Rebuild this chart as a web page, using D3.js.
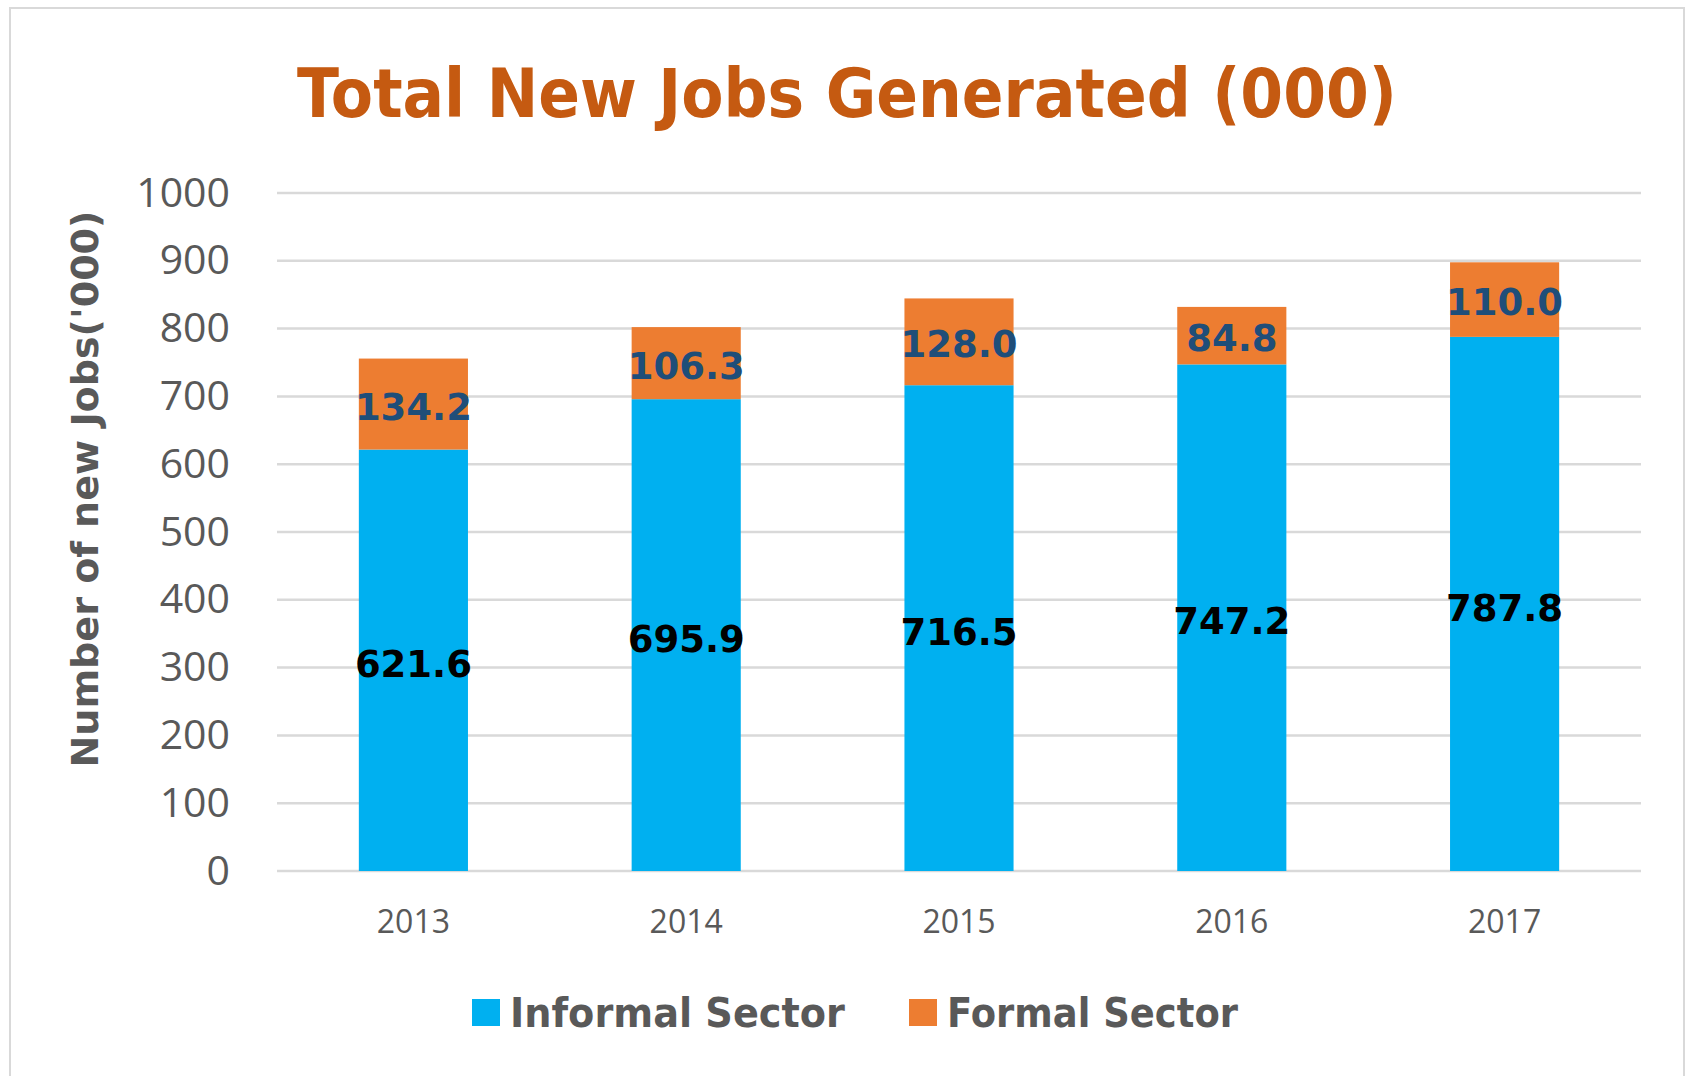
<!DOCTYPE html>
<html>
<head>
<meta charset="utf-8">
<script src="https://cdn.jsdelivr.net/npm/d3@7"></script>
<style>
  body { margin: 0; background: #fff; }
</style>
</head>
<body>
<script>
// chart values
var years = ["2013", "2014", "2015", "2016", "2017"];
var informal = [621.6, 695.9, 716.5, 747.2, 787.8];
var formal = [134.2, 106.3, 128.0, 84.8, 110.0];
var yTicks = [0, 100, 200, 300, 400, 500, 600, 700, 800, 900, 1000];
var seriesNames = ["Informal Sector", "Formal Sector"];

var w = 1686;
var h = 1076;
var comic = "'Comic Sans MS', 'DejaVu Sans', sans-serif";
var blue = "#00B0F0";
var orange = "#ED7D31";
var grey = "#595959";

var svg = d3.select("body")
    .append("svg")
    .attr("width", w)
    .attr("height", h);

// chart frame
svg.append("rect")
    .attr("x", 10)
    .attr("y", 8)
    .attr("width", w - 12)
    .attr("height", h)
    .attr("fill", "#fff")
    .attr("stroke", "#D9D9D9")
    .attr("stroke-width", 2);

var xScale = d3.scaleBand()
    .domain(years)
    .range([277, 1641])
    .paddingInner(0.6)
    .paddingOuter(0.3);

var yScale = d3.scaleLinear()
    .domain([0, 1000])
    .range([871, 193]);

// gridlines
svg.append("g")
    .selectAll("line")
    .data(yTicks)
    .enter()
    .append("line")
    .attr("x1", 277)
    .attr("x2", 1641)
    .attr("y1", function(d) { return yScale(d); })
    .attr("y2", function(d) { return yScale(d); })
    .attr("stroke", "#D9D9D9")
    .attr("stroke-width", 2.5);

var yAxis = d3.axisLeft(yScale)
    .tickValues(yTicks)
    .tickFormat(d3.format("d"))
    .tickSize(0)
    .tickPadding(0);

var gy = svg.append("g")
    .attr("transform", "translate(230,0)")
    .call(yAxis);
gy.select(".domain").remove();
gy.selectAll("text")
    .attr("font-family", "'Open Sans', sans-serif")
    .attr("font-size", "41px")
    .attr("fill", grey);

var xAxis = d3.axisBottom(xScale)
    .tickSize(0)
    .tickPadding(0);

var gx = svg.append("g")
    .attr("transform", "translate(0,871)")
    .call(xAxis);
gx.select(".domain").remove();
gx.selectAll("text")
    .attr("dy", null)
    .attr("y", 62)
    .attr("font-family", "'Open Sans', sans-serif")
    .attr("font-size", "32px")
    .attr("fill", grey);

// stacked bars
var group = svg.selectAll("g.bar")
    .data(years)
    .enter()
    .append("g")
    .attr("class", "bar");

group.append("rect")
    .attr("x", function(d) { return xScale(d); })
    .attr("y", function(d, i) { return yScale(informal[i]); })
    .attr("width", xScale.bandwidth())
    .attr("height", function(d, i) { return yScale(0) - yScale(informal[i]); })
    .attr("fill", blue);

group.append("rect")
    .attr("x", function(d) { return xScale(d); })
    .attr("y", function(d, i) { return yScale(informal[i] + formal[i]); })
    .attr("width", xScale.bandwidth())
    .attr("height", function(d, i) { return yScale(informal[i]) - yScale(informal[i] + formal[i]); })
    .attr("fill", orange);

group.append("text")
    .text(function(d, i) { return informal[i].toFixed(1); })
    .attr("text-anchor", "middle")
    .attr("x", function(d) { return xScale(d) + xScale.bandwidth() / 2; })
    .attr("y", function(d, i) { return (yScale(0) + yScale(informal[i])) / 2; })
    .attr("dy", "0.45em")
    .attr("font-family", comic)
    .attr("font-weight", "bold")
    .attr("font-size", "37px")
    .attr("fill", "#000");

group.append("text")
    .text(function(d, i) { return formal[i].toFixed(1); })
    .attr("text-anchor", "middle")
    .attr("x", function(d) { return xScale(d) + xScale.bandwidth() / 2; })
    .attr("y", function(d, i) { return (yScale(informal[i]) + yScale(informal[i] + formal[i])) / 2; })
    .attr("dy", "0.42em")
    .attr("font-family", comic)
    .attr("font-weight", "bold")
    .attr("font-size", "37px")
    .attr("fill", "#1F4E79");

// title
svg.append("text")
    .text("Total New Jobs Generated (000)")
    .attr("x", 297)
    .attr("y", 117)
    .attr("textLength", 1100)
    .attr("lengthAdjust", "spacingAndGlyphs")
    .attr("font-family", comic)
    .attr("font-weight", "bold")
    .attr("font-size", "68px")
    .attr("fill", "#C55A11");

// y axis title
svg.append("text")
    .text("Number of new Jobs('000)")
    .attr("transform", "translate(98,489) rotate(-90)")
    .attr("text-anchor", "middle")
    .attr("textLength", 557)
    .attr("lengthAdjust", "spacingAndGlyphs")
    .attr("font-family", comic)
    .attr("font-weight", "bold")
    .attr("font-size", "38px")
    .attr("fill", grey);

// legend
var legendData = [
    { label: seriesNames[0], color: blue, x: 472, len: 335 },
    { label: seriesNames[1], color: orange, x: 909, len: 291 }
];

var legendItems = svg.selectAll(".legend-item")
    .data(legendData)
    .enter()
    .append("g")
    .attr("class", "legend-item")
    .attr("transform", function(d) { return "translate(" + d.x + ",999)"; });

legendItems.append("rect")
    .attr("width", 28)
    .attr("height", 27)
    .attr("fill", function(d) { return d.color; });

legendItems.append("text")
    .text(function(d) { return d.label; })
    .attr("x", 38)
    .attr("y", 28)
    .attr("textLength", function(d) { return d.len; })
    .attr("lengthAdjust", "spacingAndGlyphs")
    .attr("font-family", comic)
    .attr("font-weight", "bold")
    .attr("font-size", "40px")
    .attr("fill", grey);
</script>
</body>
</html>
